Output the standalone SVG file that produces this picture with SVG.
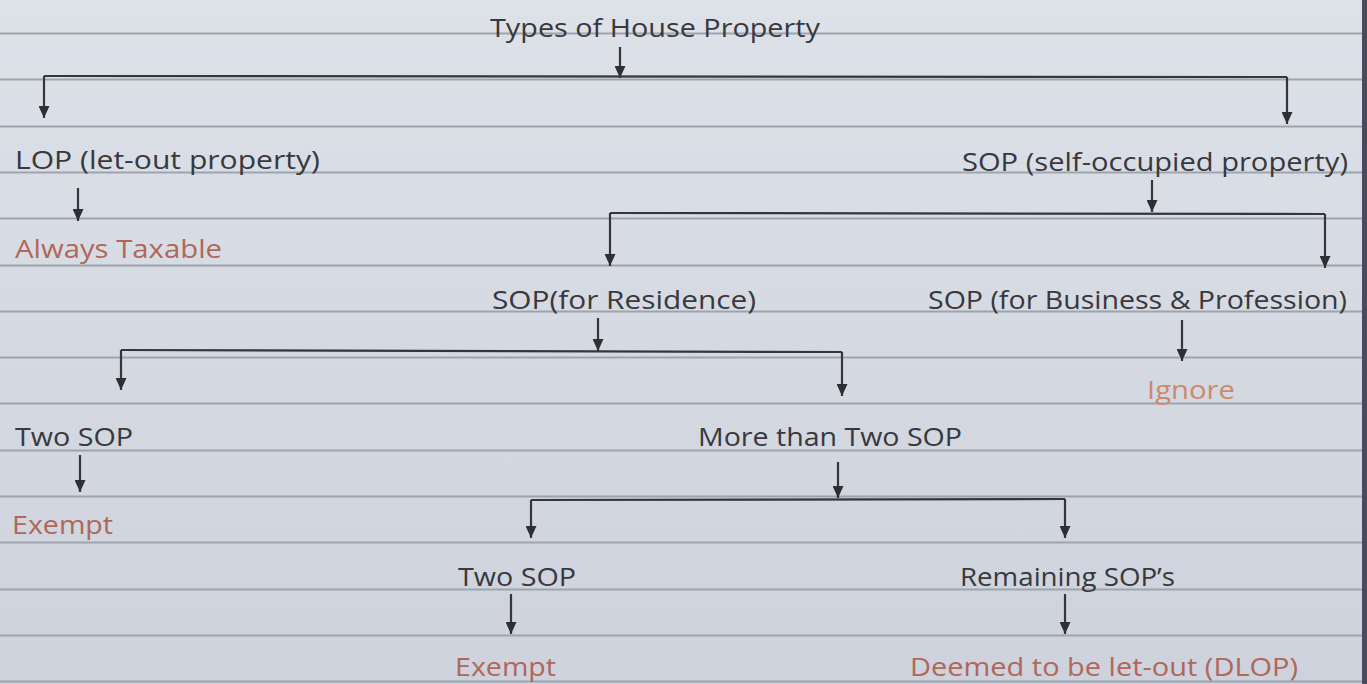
<svg xmlns="http://www.w3.org/2000/svg" width="1367" height="684" viewBox="0 0 1367 684">
<defs>
<linearGradient id="paper" x1="0" y1="0" x2="0" y2="1">
<stop offset="0" stop-color="#dde1e8"/>
<stop offset="1" stop-color="#cdd2dc"/>
</linearGradient>
<marker id="ah" markerWidth="12" markerHeight="11" refX="12" refY="5.5" orient="auto" markerUnits="userSpaceOnUse" viewBox="0 0 12 11">
<path d="M0,0 L12,5.5 L0,11 Z" fill="#2e2e33"/>
</marker>
<style>
.rule{stroke:#9ea4ae;stroke-width:1.8}
.t{font-family:"Open Sans","DejaVu Sans",sans-serif;font-size:25px;fill:#38383d}
.r{font-family:"Open Sans","DejaVu Sans",sans-serif;font-size:25px;fill:#b0675a}
.o{font-family:"Open Sans","DejaVu Sans",sans-serif;font-size:25px;fill:#cc8a6c}
.c{stroke:#35353a;stroke-width:2.2;fill:none}
.a{stroke:#35353a;stroke-width:2.2;fill:none;marker-end:url(#ah)}
</style>
</defs>
<rect width="1367" height="684" fill="url(#paper)"/>
<g id="rules">
<line class="rule" x1="0" y1="33.5" x2="1362" y2="33.5"/>
<line class="rule" x1="0" y1="79.5" x2="1362" y2="79.5"/>
<line class="rule" x1="0" y1="126.5" x2="1362" y2="126.5"/>
<line class="rule" x1="0" y1="172.5" x2="1362" y2="172.5"/>
<line class="rule" x1="0" y1="218.5" x2="1362" y2="218.5"/>
<line class="rule" x1="0" y1="265.5" x2="1362" y2="265.5"/>
<line class="rule" x1="0" y1="311.5" x2="1362" y2="311.5"/>
<line class="rule" x1="0" y1="357.5" x2="1362" y2="357.5"/>
<line class="rule" x1="0" y1="403.5" x2="1362" y2="403.5"/>
<line class="rule" x1="0" y1="450.5" x2="1362" y2="450.5"/>
<line class="rule" x1="0" y1="496.5" x2="1362" y2="496.5"/>
<line class="rule" x1="0" y1="542.5" x2="1362" y2="542.5"/>
<line class="rule" x1="0" y1="589.5" x2="1362" y2="589.5"/>
<line class="rule" x1="0" y1="635.5" x2="1362" y2="635.5"/>
<line class="rule" x1="0" y1="681.5" x2="1362" y2="681.5"/>
<rect x="1362" y="0" width="5" height="684" fill="#4a4a5e"/>
</g>
<g id="connectors">
<line class="a" x1="620" y1="47" x2="620" y2="78"/>
<path class="c" d="M44,76 L1287,77"/>
<line class="a" x1="44" y1="76" x2="44" y2="118"/>
<line class="a" x1="1287" y1="77" x2="1287" y2="124"/>
<line class="a" x1="78" y1="188" x2="78" y2="221"/>
<line class="a" x1="1152" y1="180" x2="1152" y2="212"/>
<path class="c" d="M610,213 L1325,214"/>
<line class="a" x1="610" y1="213" x2="610" y2="266"/>
<line class="a" x1="1325" y1="214" x2="1325" y2="268"/>
<line class="a" x1="598" y1="318" x2="598" y2="351"/>
<path class="c" d="M121,350 L842,352"/>
<line class="a" x1="121" y1="350" x2="121" y2="390"/>
<line class="a" x1="842" y1="352" x2="842" y2="396"/>
<line class="a" x1="1182" y1="320" x2="1182" y2="361"/>
<line class="a" x1="80" y1="455" x2="80" y2="492"/>
<line class="a" x1="838" y1="462" x2="838" y2="498"/>
<path class="c" d="M531,500 L1065,499"/>
<line class="a" x1="531" y1="500" x2="531" y2="538"/>
<line class="a" x1="1065" y1="499" x2="1065" y2="538"/>
<line class="a" x1="511" y1="594" x2="511" y2="634"/>
<line class="a" x1="1065" y1="594" x2="1065" y2="634"/>
</g>
<g id="n-title"><text class="t" x="490" y="37" textLength="330" lengthAdjust="spacingAndGlyphs">Types of House Property</text></g>
<g id="n-lop"><text class="t" x="15" y="169" textLength="305" lengthAdjust="spacingAndGlyphs">LOP (let-out property)</text></g>
<g id="n-taxable"><text class="r" x="15" y="258" textLength="207" lengthAdjust="spacingAndGlyphs">Always Taxable</text></g>
<g id="n-sop"><text class="t" x="962" y="171" textLength="386" lengthAdjust="spacingAndGlyphs">SOP (self-occupied property)</text></g>
<g id="n-res"><text class="t" x="492" y="309" textLength="264" lengthAdjust="spacingAndGlyphs">SOP(for Residence)</text></g>
<g id="n-bus"><text class="t" x="928" y="309" textLength="419" lengthAdjust="spacingAndGlyphs">SOP (for Business &amp; Profession)</text></g>
<g id="n-ignore"><text class="o" x="1147" y="399" textLength="88" lengthAdjust="spacingAndGlyphs">Ignore</text></g>
<g id="n-two1"><text class="t" x="15" y="446" textLength="118" lengthAdjust="spacingAndGlyphs">Two SOP</text></g>
<g id="n-exempt1"><text class="r" x="12" y="534" textLength="101" lengthAdjust="spacingAndGlyphs">Exempt</text></g>
<g id="n-more"><text class="t" x="698" y="446" textLength="264" lengthAdjust="spacingAndGlyphs">More than Two SOP</text></g>
<g id="n-two2"><text class="t" x="458" y="586" textLength="118" lengthAdjust="spacingAndGlyphs">Two SOP</text></g>
<g id="n-exempt2"><text class="r" x="455" y="676" textLength="101" lengthAdjust="spacingAndGlyphs">Exempt</text></g>
<g id="n-remaining"><text class="t" x="960" y="586" textLength="215" lengthAdjust="spacingAndGlyphs">Remaining SOP’s</text></g>
<g id="n-dlop"><text class="r" x="910" y="676" textLength="388" lengthAdjust="spacingAndGlyphs">Deemed to be let-out (DLOP)</text></g>
</svg>
